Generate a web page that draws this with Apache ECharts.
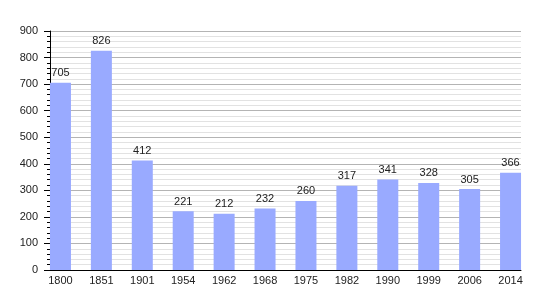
<!DOCTYPE html>
<html>
<head>
<meta charset="utf-8">
<script src="https://cdn.jsdelivr.net/npm/echarts@6/dist/echarts.min.js"></script>
<style>
    html, body { margin: 0; padding: 0; background: #fff; }
    #chart { width: 550px; height: 300px; }
</style>
</head>
<body>
<div id="chart"></div>
<script>
// population by census year
const years = ['1800', '1851', '1901', '1954', '1962', '1968', '1975', '1982', '1990', '1999', '2006', '2014'];
const population = [705, 826, 412, 221, 212, 232, 260, 317, 341, 328, 305, 366];
const yMin = 0;
const yMax = 900;
const yStep = 100;

const chart = echarts.init(document.getElementById('chart'));
const font = 'Liberation Sans, Arial, sans-serif';

chart.setOption({
    animation: false,
    // grid 0 holds the frame and gridlines, grid 1 the bars (wider so bars sit left in each slot)
    grid: [
        { left: 50, right: 29, top: 31, bottom: 30 },
        { left: 40, right: 19, top: 31, bottom: 30 }
    ],
    xAxis: [
        {
            gridIndex: 0,
            type: 'category',
            data: years,
            axisLine: { show: true, lineStyle: { color: '#000', width: 1 } },
            axisTick: { show: false },
            axisLabel: { show: false }
        },
        {
            gridIndex: 1,
            type: 'category',
            data: years,
            axisLine: { show: false },
            axisTick: { show: false },
            axisLabel: { color: '#222', fontFamily: font, fontSize: 11, margin: 5 }
        }
    ],
    yAxis: [
        {
            gridIndex: 0,
            type: 'value',
            min: yMin,
            max: yMax,
            interval: yStep,
            axisLine: { show: true, lineStyle: { color: '#000', width: 1 } },
            axisTick: { show: true, length: 6, lineStyle: { color: '#000' } },
            minorTick: { show: true, splitNumber: 5, length: 3, lineStyle: { color: '#000' } },
            axisLabel: { color: '#222', fontFamily: font, fontSize: 11, margin: 12 },
            splitLine: { show: true, lineStyle: { color: '#b4b4b4', width: 1 } },
            minorSplitLine: { show: true, lineStyle: { color: '#e2e2e2', width: 1 } }
        },
        {
            gridIndex: 1,
            type: 'value',
            min: yMin,
            max: yMax,
            interval: yStep,
            show: false,
            splitLine: { show: false }
        }
    ],
    series: [
        {
            type: 'bar',
            xAxisIndex: 1,
            yAxisIndex: 1,
            data: population,
            barWidth: 21,
            itemStyle: { color: '#99aaff' },
            label: {
                show: true,
                position: 'top',
                distance: 4,
                color: '#222',
                fontFamily: font,
                fontSize: 11
            }
        }
    ]
});
</script>
</body>
</html>
